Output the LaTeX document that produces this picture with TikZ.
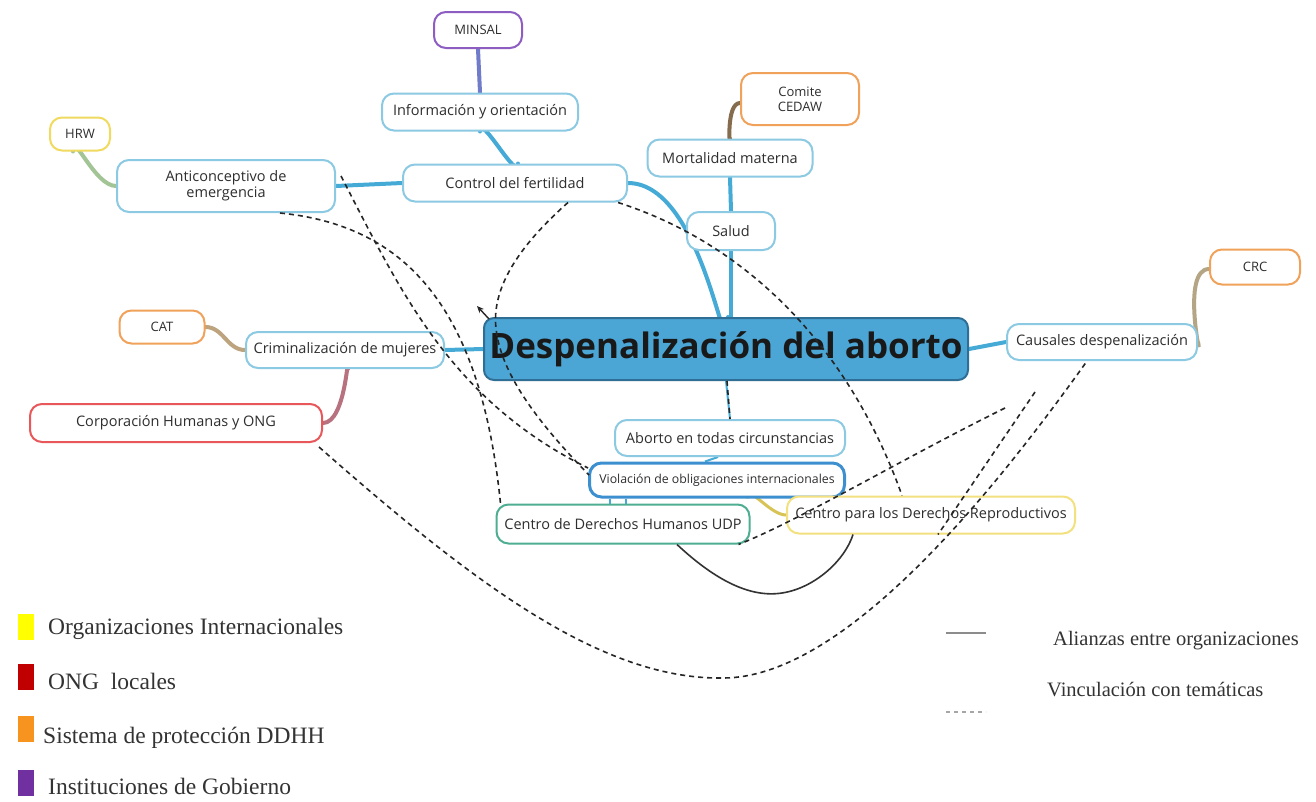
\documentclass[tikz,border=0pt]{standalone}
\usepackage{fontspec}
\setmainfont{Liberation Serif}
\newfontfamily\osans{Open Sans}
\usetikzlibrary{backgrounds,calc,arrows.meta}
\definecolor{topicb}{HTML}{8CC9E2}
\definecolor{linkb}{HTML}{45AAD6}
\definecolor{mainfill}{HTML}{4BA5D5}
\definecolor{mainborder}{HTML}{2F6F95}
\definecolor{orgyellow}{HTML}{F0DA60}
\definecolor{orgpurple}{HTML}{8D5DC2}
\definecolor{orgorange}{HTML}{F0A25A}
\definecolor{orgred}{HTML}{E8585A}
\definecolor{orggreen}{HTML}{4FAE92}
\definecolor{violb}{HTML}{3D90CF}
\definecolor{txt}{HTML}{2E2E2E}
\definecolor{lgyellow}{HTML}{FFFF00}
\definecolor{lgred}{HTML}{C00000}
\definecolor{lgorange}{HTML}{F79420}
\definecolor{lgpurple}{HTML}{7030A0}
\begin{document}
\begin{tikzpicture}[x=1pt,y=-1pt,
  box/.style={draw=topicb, line width=2pt, rounded corners=12pt, fill=white, inner sep=0pt,
    align=center, text=txt, font=\osans\fontsize{14.5}{16}\selectfont},
  smallbox/.style={box, font=\osans\fontsize{13}{15}\selectfont},
  mainbox/.style={draw=mainborder, line width=2pt, rounded corners=10pt, fill=mainfill, inner sep=0pt,
    text=black!90, font=\osans\bfseries\fontsize{35}{38}\selectfont},
  mm/.style={draw=linkb, line width=4pt, line cap=round},
  mmthin/.style={draw=linkb, line width=2pt},
  theme/.style={draw=black!85, dashed, line width=1.6pt, dash pattern=on 5pt off 4pt},
  alliance/.style={draw=black!80, line width=1.6pt},
  lgsq/.style={minimum width=16pt, minimum height=26pt, inner sep=0pt},
  lgtxt/.style={anchor=west, inner sep=0pt, text=black!80, font=\fontsize{23.5}{26}\selectfont},
  lgtxtr/.style={anchor=west, inner sep=0pt, text=black!80, font=\fontsize{20.5}{24}\selectfont}
]
\useasboundingbox (0,0) rectangle (1316,801);

% ---------- nodes ----------
\node[smallbox, draw=orgpurple, minimum width=88pt, minimum height=36pt] (minsal) at (478,30) {MINSAL};
\node[box, minimum width=196pt, minimum height=37pt] (info) at (480,112) {Información y orientación};
\node[smallbox, draw=orgyellow, minimum width=60pt, minimum height=33pt] (hrw) at (80,134) {HRW};
\node[box, minimum width=218pt, minimum height=52pt] (anti) at (226,186) {Anticonceptivo de\\emergencia};
\node[box, minimum width=224pt, minimum height=37pt] (control) at (515,183) {Control del fertilidad};
\node[smallbox, draw=orgorange, minimum width=118pt, minimum height=52pt] (cedaw) at (800,99) {Comite\\CEDAW};
\node[box, minimum width=165pt, minimum height=37pt] (mortal) at (730,158) {Mortalidad materna};
\node[box, minimum width=88pt, minimum height=38pt] (salud) at (731,231) {Salud};
\node[smallbox, draw=orgorange, minimum width=90pt, minimum height=35pt] (crc) at (1255,267) {CRC};
\node[box, minimum width=190pt, minimum height=36pt] (causales) at (1102,342) {Causales despenalización};
\node[mainbox, minimum width=484pt, minimum height=62pt] (main) at (726,349) {Despenalización del aborto};
\node[smallbox, draw=orgorange, minimum width=85pt, minimum height=33pt] (cat) at (162,327) {CAT};
\node[box, minimum width=198pt, minimum height=36pt] (crim) at (345,350) {Criminalización de mujeres};
\node[box, draw=orgred, minimum width=292pt, minimum height=38pt] (corp) at (176,423) {Corporación Humanas y ONG};
\node[box, minimum width=230pt, minimum height=36pt] (aborto) at (730,438) {Aborto en todas circunstancias};
\node[box, draw=violb, line width=3pt, minimum width=255pt, minimum height=34pt, font=\osans\fontsize{12.3}{14}\selectfont] (viol) at (717,480) {Violación de obligaciones internacionales};
\node[box, draw=orggreen, minimum width=253pt, minimum height=39pt] (udp) at (623,524) {Centro de Derechos Humanos UDP};
\node[box, draw=orgyellow!80, minimum width=288pt, minimum height=37pt] (cdr) at (931,515) {Centro para los Derechos Reproductivos};

% ---------- mind-map branches ----------
\begin{scope}[on background layer]
\fill[white] (0,0) rectangle (1316,801);
\draw[mm, draw=orgpurple!60!linkb] (minsal.south) -- (info.north);
\draw[mm] (info.south) to[out=90,in=-90] ($(control.north)+(3,0)$);
\draw[mm] (control.west) -- (anti.east);
\draw[mm, draw=orgyellow!55!linkb] ($(hrw.south)+(-7,0)$) to[out=90,in=180] (anti.west);
\draw[mm] (control.east) to[out=0,in=-90,looseness=1.2] ($(main.north)+(2,0)$);
\draw[mm] (mortal.south) -- (salud.north);
\draw[mm] (salud.south) -- (salud.south |- main.north);
\draw[mm, draw=orgorange!60!black!85!linkb] ($(cedaw.west)+(0,4)$) to[out=180,in=-90] (mortal.north);
\draw[mm] (main.east) -- (causales.west);
\draw[mm, draw=orgorange!65!linkb] (causales.east) to[out=-80,in=180] ($(crc.west)+(0,2)$);
\draw[mm] (main.west) -- (crim.east);
\draw[mm, draw=orgorange!70!linkb] (crim.west) to[out=180,in=0] (cat.east);
\draw[mm, draw=orgred!70!linkb] ($(crim.south)+(3,0)$) to[out=90,in=0] (corp.east);
\draw[mmthin] (main.south) -- (aborto.north);
\draw[mmthin] ($(aborto.south)+(-12,0)$) -- ($(viol.north)+(-12,0)$);
\draw[mmthin] ($(viol.south)+(-107,0)$) -- ($(udp.north)+(-13,0)$);
\draw[mmthin] ($(viol.south)+(-91,0)$) -- ($(udp.north)+(3,0)$);
\draw[line width=3pt, draw=orgyellow!90!black] ($(viol.south)+(30,0)$) to[out=90,in=180] (cdr.west);
\end{scope}

% ---------- alliance ----------
\draw[alliance] ($(udp.south)+(54,0)$) .. controls (715,580) and (750,598) .. (782,593)
  .. controls (815,588) and (845,560) .. ($(cdr.south)+(-78,0)$);

% ---------- thematic links ----------
\coordinate (f6) at (1035,392);
\coordinate (f7) at (1005,408);
\coordinate (arr) at (477,306);
\draw[theme] ($(anti.east)+(5,-10)$) .. controls (400,290) and (450,400) .. ($(viol.west)+(0,-12)$);
\draw[theme] ($(anti.south)+(54,0)$) .. controls (400,225) and (480,300) .. ($(udp.north west)+(5,0)$);
\draw[theme] ($(control.south)+(53,0)$) .. controls (520,245) and (488,290) .. (497,335)
  .. controls (505,385) and (555,440) .. ($(viol.west)+(1,-5)$);
\draw[line width=1.4pt, black!85, -{Stealth[length=7pt,width=6pt]}] ($(main.north west)+(6,2)$) -- (arr);
\draw[theme] ($(control.south east)+(-10,0)$) .. controls (750,245) and (850,350) .. ($(cdr.north)+(-29,0)$);
\draw[theme] ($(corp.south east)+(-4,4)$) .. controls (470,580) and (600,680) .. (723,678)
  .. controls (845,678) and (995,490) .. ($(causales.south)+(-15,0)$);
\draw[theme] (f6) -- ($(cdr.south)+(7,0)$);
\draw[theme] (f7) .. controls (900,460) and (800,520) .. ($(udp.south east)+(-12,0)$);
\draw[theme] ($(main.south)+(1,0)$) -- (aborto.north);

% ---------- legend ----------
\node[lgsq, fill=lgyellow] (sq1) at (26,627) {};
\node[lgtxt] (t1) at (48,629) {Organizaciones Internacionales};
\node[lgsq, fill=lgred] (sq2) at (26,677) {};
\node[lgtxt] (t2) at (48,681) {ONG\hspace{0.25em} locales};
\node[lgsq, fill=lgorange] (sq3) at (26,729) {};
\node[lgtxt] (t3) at (43,738) {Sistema de protección DDHH};
\node[lgsq, fill=lgpurple] (sq4) at (26,783) {};
\node[lgtxt] (t4) at (48,786) {Instituciones de Gobierno};

\coordinate (la1) at (946,633);
\coordinate (la2) at (986,633);
\draw[line width=2.5pt, draw=black!45] (la1) -- (la2);
\node[lgtxtr] (t5) at (1053,641) {Alianzas entre organizaciones};
\coordinate (lb1) at (946,712);
\coordinate (lb2) at (986,712);
\draw[line width=2pt, draw=black!35, dash pattern=on 4pt off 4pt] (lb1) -- (lb2);
\node[lgtxtr] (t6) at (1047,690) {Vinculación con temáticas};
\end{tikzpicture}
\end{document}
